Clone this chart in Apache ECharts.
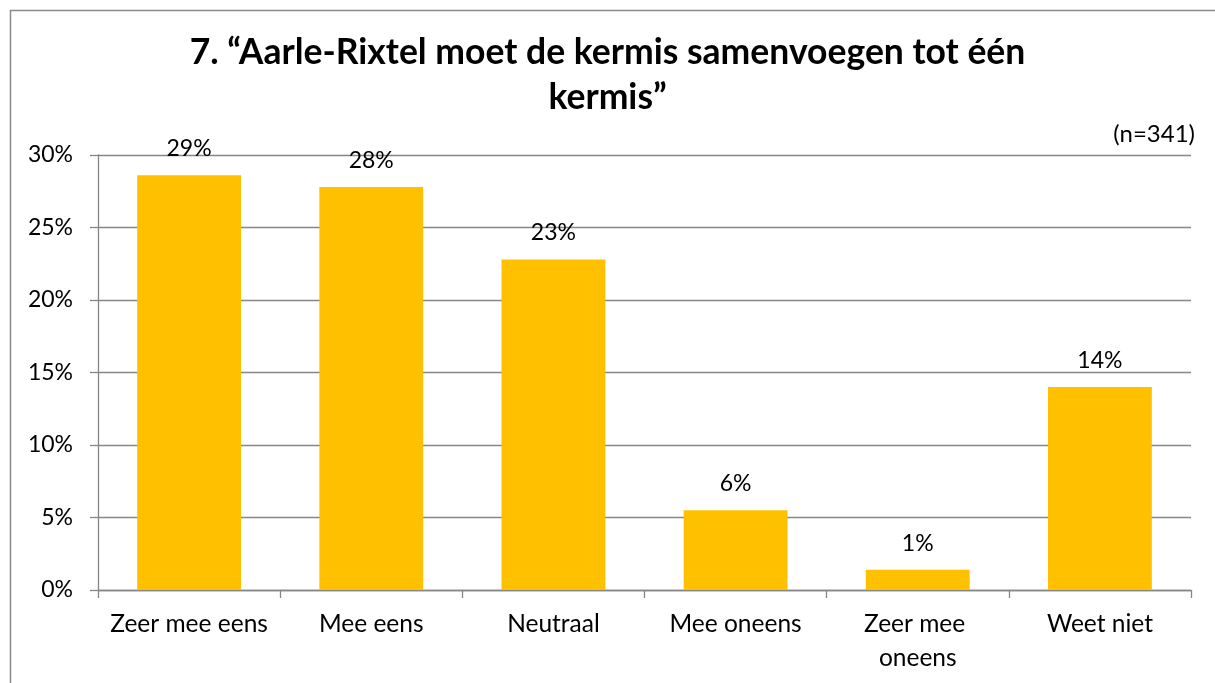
<!DOCTYPE html>
<html>
<head>
<meta charset="utf-8">
<title>Aarle-Rixtel kermis</title>
<script src="https://cdn.jsdelivr.net/npm/echarts@6/dist/echarts.min.js"></script>
<style>
  html, body { margin: 0; padding: 0; background: #ffffff; }
  #chart { width: 1215px; height: 683px; }
</style>
</head>
<body>
<div id="chart"></div>
<script>
// Survey question 7: share of respondents per answer (percent)
const titleText = '7. \u201cAarle-Rixtel moet de kermis samenvoegen tot \u00e9\u00e9n\nkermis\u201d';
const sampleNote = '(n=341)';
const categories = ['Zeer mee eens', 'Mee eens', 'Neutraal', 'Mee oneens', 'Zeer mee oneens', 'Weet niet'];
const shares = [28.6, 27.8, 22.8, 5.5, 1.4, 14.0];
const yTicks = { min: 0, max: 30, interval: 5 };

const FONT = 'Lato, "Noto Sans", sans-serif';
const GREY = '#868686';

const chart = echarts.init(document.getElementById('chart'), null, { renderer: 'canvas' });

chart.setOption({
  animation: false,
  backgroundColor: '#ffffff',
  title: [
    {
      text: titleText,
      left: 'center',
      top: 25,
      padding: [5, 5, 5, 21],
      textStyle: { fontFamily: FONT, fontSize: 35.5, fontWeight: 'bold', color: '#000', lineHeight: 45 }
    },
    {
      text: sampleNote,
      right: 15,
      top: 117,
      textStyle: { fontFamily: FONT, fontSize: 24, fontWeight: 'normal', color: '#000' }
    }
  ],
  graphic: [
    {
      type: 'rect',
      shape: { x: 10.5, y: 10.5, width: 1400, height: 900 },
      style: { fill: 'none', stroke: '#8a8a8a', lineWidth: 1.5 },
      silent: true,
      z: -1
    }
  ],
  grid: { left: 98, right: 24, top: 155, bottom: 93 },
  xAxis: {
    type: 'category',
    data: categories,
    axisLine: { show: true, lineStyle: { color: GREY, width: 1.3 } },
    axisTick: { show: true, length: 8, lineStyle: { color: GREY, width: 1.3 } },
    axisLabel: {
      fontFamily: FONT, fontSize: 24.5, color: '#000', margin: 17,
      width: 165, overflow: 'break', lineHeight: 34, interval: 0
    }
  },
  yAxis: {
    type: 'value',
    min: yTicks.min,
    max: yTicks.max,
    interval: yTicks.interval,
    axisLine: { show: true, lineStyle: { color: GREY, width: 1.3 } },
    axisTick: { show: true, length: 8, lineStyle: { color: GREY, width: 1.3 } },
    axisLabel: { fontFamily: FONT, fontSize: 23, color: '#000', margin: 25, formatter: '{value}%' },
    splitLine: { show: true, lineStyle: { color: GREY, width: 1.3 } }
  },
  series: [
    {
      type: 'bar',
      data: shares,
      barWidth: '57%',
      itemStyle: { color: '#FFC000' },
      label: {
        show: true,
        position: 'top',
        distance: 15,
        fontFamily: FONT,
        fontSize: 23,
        color: '#000',
        formatter: p => Math.round(p.value) + '%'
      }
    }
  ]
});
</script>
</body>
</html>
